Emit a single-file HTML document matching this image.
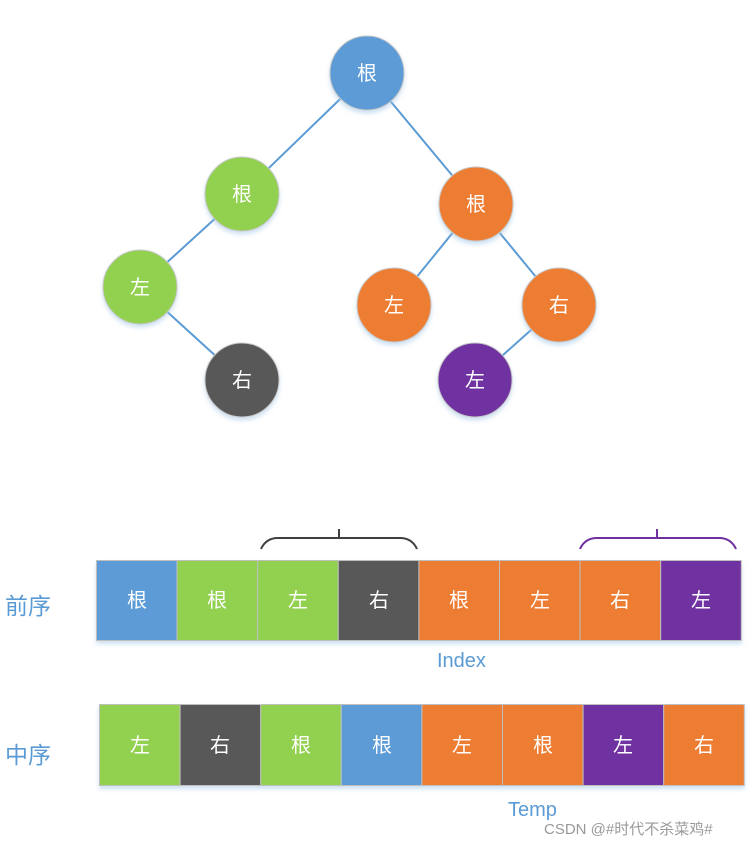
<!DOCTYPE html>
<html><head><meta charset="utf-8"><style>
body{margin:0;background:#fff;}
text{font-family:"Liberation Sans","Noto Sans CJK SC",sans-serif;}
</style></head><body>
<svg width="754" height="846" viewBox="0 0 754 846" xmlns="http://www.w3.org/2000/svg">
<defs><filter id="s" x="-20%" y="-20%" width="140%" height="150%"><feDropShadow dx="0" dy="3" stdDeviation="2" flood-color="#9dc3e6" flood-opacity="0.5"/></filter></defs>
<g stroke="#5b9bd5" stroke-width="2">
<line x1="367" y1="73" x2="242" y2="194"/><line x1="367" y1="73" x2="476" y2="204"/>
<line x1="242" y1="194" x2="140" y2="287"/><line x1="140" y1="287" x2="242" y2="380"/>
<line x1="476" y1="204" x2="394" y2="305"/><line x1="476" y1="204" x2="559" y2="305"/>
<line x1="559" y1="305" x2="475" y2="380"/>
</g>
<g filter="url(#s)" stroke="#c8c8c8" stroke-width="1">
<circle cx="367" cy="73" r="37" fill="#5b9bd5"/>
<circle cx="242" cy="194" r="37" fill="#92d050"/>
<circle cx="140" cy="287" r="37" fill="#92d050"/>
<circle cx="242" cy="380" r="37" fill="#595959"/>
<circle cx="476" cy="204" r="37" fill="#ed7d31"/>
<circle cx="394" cy="305" r="37" fill="#ed7d31"/>
<circle cx="559" cy="305" r="37" fill="#ed7d31"/>
<circle cx="475" cy="380" r="37" fill="#7030a0"/>
</g>
<g fill="#fff" font-size="20" text-anchor="middle">
<text x="367" y="80">根</text><text x="242" y="201">根</text><text x="140" y="294">左</text><text x="242" y="387">右</text>
<text x="476" y="211">根</text><text x="394" y="312">左</text><text x="559" y="312">右</text><text x="475" y="387">左</text>
</g>
<path d="M261 549 Q266 538 278 538 L400 538 Q412 538 417 549" fill="none" stroke="#404040" stroke-width="2"/>
<line x1="339" y1="529" x2="339" y2="538" stroke="#404040" stroke-width="2"/>
<path d="M580 549 Q585 538 597 538 L719 538 Q731 538 736 549" fill="none" stroke="#7030a0" stroke-width="2"/>
<line x1="657" y1="529" x2="657" y2="538" stroke="#7030a0" stroke-width="2"/>
<g filter="url(#s)" stroke="#bfbfbf" stroke-width="1">
<rect x="96.5" y="560.5" width="80.6" height="80" fill="#5b9bd5"/>
<rect x="177.1" y="560.5" width="80.6" height="80" fill="#92d050"/>
<rect x="257.7" y="560.5" width="80.6" height="80" fill="#92d050"/>
<rect x="338.3" y="560.5" width="80.6" height="80" fill="#595959"/>
<rect x="418.9" y="560.5" width="80.6" height="80" fill="#ed7d31"/>
<rect x="499.5" y="560.5" width="80.6" height="80" fill="#ed7d31"/>
<rect x="580.1" y="560.5" width="80.6" height="80" fill="#ed7d31"/>
<rect x="660.7" y="560.5" width="80.6" height="80" fill="#7030a0"/>
<rect x="99.5" y="704.5" width="80.6" height="81" fill="#92d050"/>
<rect x="180.1" y="704.5" width="80.6" height="81" fill="#595959"/>
<rect x="260.7" y="704.5" width="80.6" height="81" fill="#92d050"/>
<rect x="341.3" y="704.5" width="80.6" height="81" fill="#5b9bd5"/>
<rect x="421.9" y="704.5" width="80.6" height="81" fill="#ed7d31"/>
<rect x="502.5" y="704.5" width="80.6" height="81" fill="#ed7d31"/>
<rect x="583.1" y="704.5" width="80.6" height="81" fill="#7030a0"/>
<rect x="663.7" y="704.5" width="80.6" height="81" fill="#ed7d31"/>
</g>
<g fill="#fff" font-size="20" text-anchor="middle">
<text x="137" y="607">根</text><text x="217" y="607">根</text><text x="298" y="607">左</text><text x="379" y="607">右</text>
<text x="459" y="607">根</text><text x="540" y="607">左</text><text x="620" y="607">右</text><text x="701" y="607">左</text>
<text x="140" y="752">左</text><text x="220" y="752">右</text><text x="301" y="752">根</text><text x="382" y="752">根</text>
<text x="462" y="752">左</text><text x="543" y="752">根</text><text x="623" y="752">左</text><text x="704" y="752">右</text>
</g>
<g fill="#5b9bd5">
<text x="5" y="614" font-size="23">前序</text>
<text x="5" y="763" font-size="23">中序</text>
<text x="437" y="667" font-size="20">Index</text>
<text x="508" y="816" font-size="20">Temp</text>
</g>
<text x="544" y="834" font-size="15" fill="#999">CSDN @#时代不杀菜鸡#</text>
</svg>
</body></html>
